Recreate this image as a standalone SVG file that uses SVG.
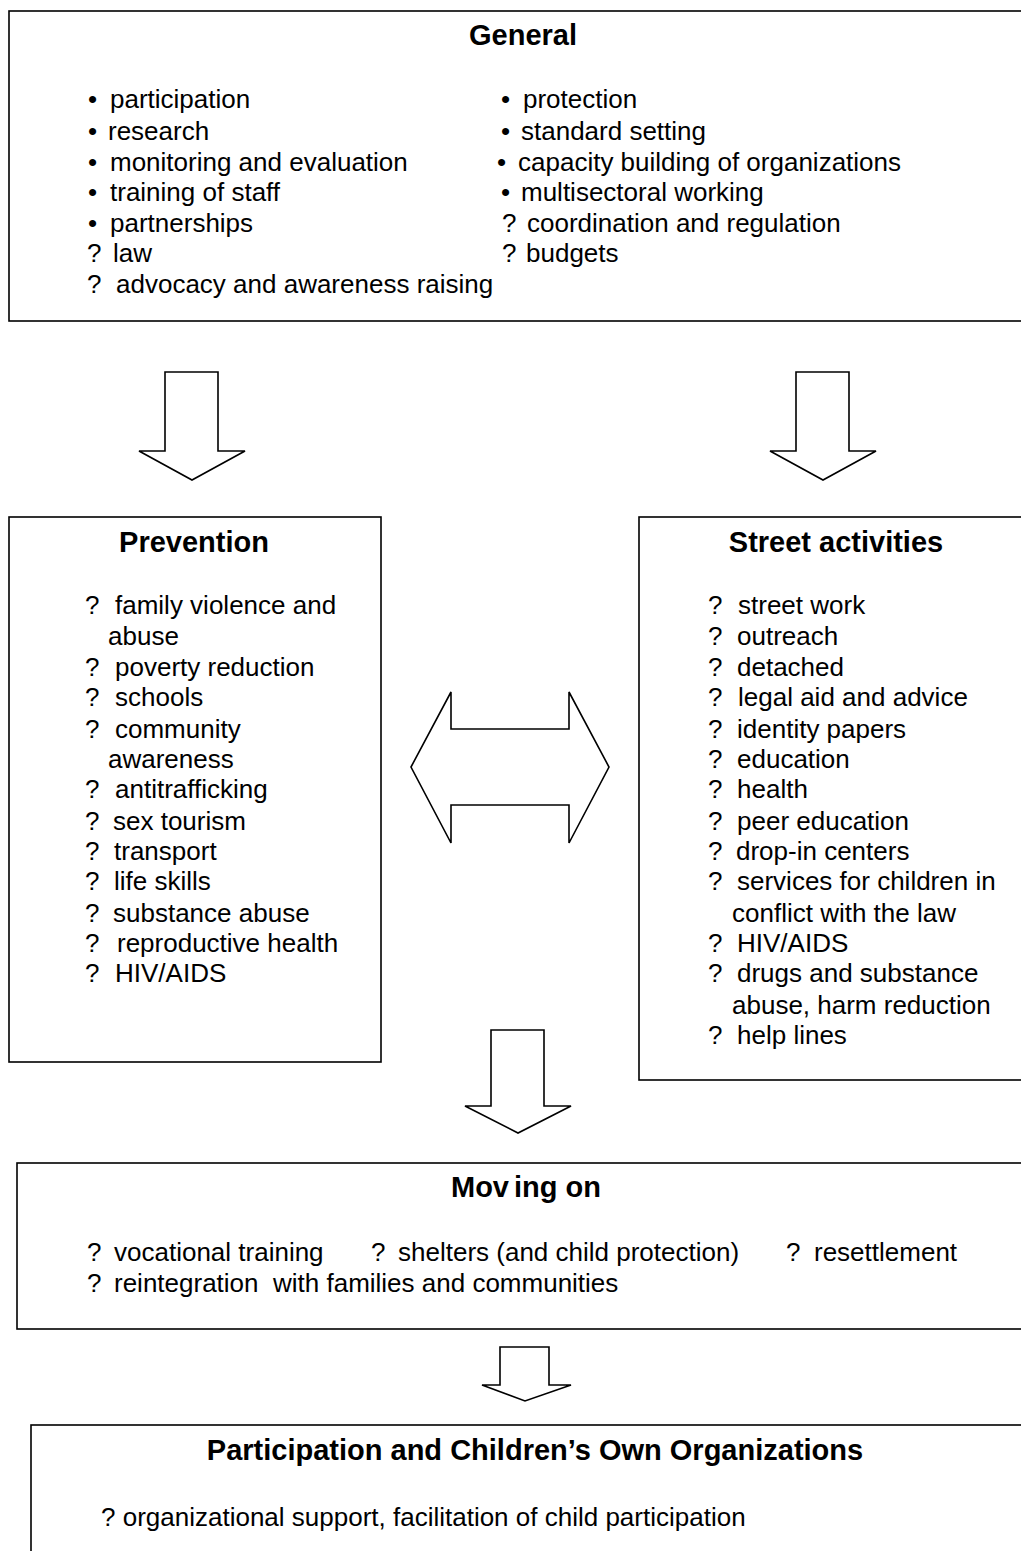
<svg xmlns="http://www.w3.org/2000/svg" width="1021" height="1551" viewBox="0 0 1021 1551">
<style>
.box{fill:#fff;stroke:#000;stroke-width:1.6}
.arr{fill:#fff;stroke:#000;stroke-width:1.6;stroke-linejoin:miter}
.t{font-family:"Liberation Sans",Arial,sans-serif;font-size:26px;fill:#000;white-space:pre}
.h{font-family:"Liberation Sans",Arial,sans-serif;font-size:29px;font-weight:bold;fill:#000;text-anchor:middle}
</style>
<rect width="1021" height="1551" fill="#fff"/>
<g id="connectors">
<polygon class="arr" points="165,372 218,372 218,451 245,451 192,480 139,451 165,451"/>
<polygon class="arr" points="796,372 849,372 849,451 876,451 823,480 770,451 796,451"/>
<polygon class="arr" points="411,767 451,692 451,729 569,729 569,692 609,767 569,843 569,805 451,805 451,843"/>
<polygon class="arr" points="491,1030 544,1030 544,1106 571,1106 518,1133 465,1106 491,1106"/>
<polygon class="arr" points="500,1347 549,1347 549,1385 571,1385 525,1401 482,1385 500,1385"/>
</g>
<g id="general">
<rect class="box" x="9" y="11" width="1030" height="310"/>
<text class="h" x="523" y="45">General</text>
<text class="t" x="88" y="108">•</text><text class="t" x="110" y="108">participation</text>
<text class="t" x="88" y="140">•</text><text class="t" x="108" y="140">research</text>
<text class="t" x="88" y="171">•</text><text class="t" x="110" y="171">monitoring and evaluation</text>
<text class="t" x="88" y="201">•</text><text class="t" x="110" y="201">training of staff</text>
<text class="t" x="88" y="232">•</text><text class="t" x="110" y="232">partnerships</text>
<text class="t" x="87" y="262">?</text><text class="t" x="113" y="262">law</text>
<text class="t" x="87" y="293">?</text><text class="t" x="116" y="293">advocacy and awareness raising</text>
<text class="t" x="501" y="108">•</text><text class="t" x="523" y="108">protection</text>
<text class="t" x="501" y="140">•</text><text class="t" x="521" y="140">standard setting</text>
<text class="t" x="497" y="171">•</text><text class="t" x="518" y="171">capacity building of organizations</text>
<text class="t" x="501" y="201">•</text><text class="t" x="521" y="201">multisectoral working</text>
<text class="t" x="502" y="232">?</text><text class="t" x="527" y="232">coordination and regulation</text>
<text class="t" x="502" y="262">?</text><text class="t" x="526" y="262">budgets</text>
</g>
<g id="prevention">
<rect class="box" x="9" y="517" width="372" height="545"/>
<text class="h" x="194" y="552">Prevention</text>
<text class="t" x="85" y="614">?</text><text class="t" x="115" y="614">family violence and</text>
<text class="t" x="108" y="645">abuse</text>
<text class="t" x="85" y="676">?</text><text class="t" x="115" y="676">poverty reduction</text>
<text class="t" x="85" y="706">?</text><text class="t" x="115" y="706">schools</text>
<text class="t" x="85" y="738">?</text><text class="t" x="115" y="738">community</text>
<text class="t" x="108" y="768">awareness</text>
<text class="t" x="85" y="798">?</text><text class="t" x="115" y="798">antitrafficking</text>
<text class="t" x="85" y="830">?</text><text class="t" x="113" y="830">sex tourism</text>
<text class="t" x="85" y="860">?</text><text class="t" x="114" y="860">transport</text>
<text class="t" x="85" y="890">?</text><text class="t" x="114" y="890">life skills</text>
<text class="t" x="85" y="922">?</text><text class="t" x="113" y="922">substance abuse</text>
<text class="t" x="85" y="952">?</text><text class="t" x="117" y="952">reproductive health</text>
<text class="t" x="85" y="982">?</text><text class="t" x="115" y="982">HIV/AIDS</text>
</g>
<g id="street">
<rect class="box" x="639" y="517" width="400" height="563"/>
<text class="h" x="836" y="552">Street activities</text>
<text class="t" x="708" y="614">?</text><text class="t" x="738" y="614">street work</text>
<text class="t" x="708" y="645">?</text><text class="t" x="737" y="645">outreach</text>
<text class="t" x="708" y="676">?</text><text class="t" x="737" y="676">detached</text>
<text class="t" x="708" y="706">?</text><text class="t" x="738" y="706">legal aid and advice</text>
<text class="t" x="708" y="738">?</text><text class="t" x="737" y="738">identity papers</text>
<text class="t" x="708" y="768">?</text><text class="t" x="737" y="768">education</text>
<text class="t" x="708" y="798">?</text><text class="t" x="737" y="798">health</text>
<text class="t" x="708" y="830">?</text><text class="t" x="737" y="830">peer education</text>
<text class="t" x="708" y="860">?</text><text class="t" x="736" y="860">drop-in centers</text>
<text class="t" x="708" y="890">?</text><text class="t" x="737" y="890">services for children in</text>
<text class="t" x="732" y="922">conflict with the law</text>
<text class="t" x="708" y="952">?</text><text class="t" x="737" y="952">HIV/AIDS</text>
<text class="t" x="708" y="982">?</text><text class="t" x="737" y="982">drugs and substance</text>
<text class="t" x="732" y="1014">abuse, harm reduction</text>
<text class="t" x="708" y="1044">?</text><text class="t" x="737" y="1044">help lines</text>
</g>
<g id="moving-on">
<rect class="box" x="17" y="1163" width="1022" height="166"/>
<text class="h" x="526" y="1197">Mov<tspan dx="5">ing on</tspan></text>
<text class="t" x="87" y="1261">?</text><text class="t" x="114" y="1261">vocational training</text>
<text class="t" x="371" y="1261">?</text><text class="t" x="398" y="1261">shelters (and child protection)</text>
<text class="t" x="786" y="1261">?</text><text class="t" x="814" y="1261">resettlement</text>
<text class="t" x="87" y="1292">?</text><text class="t" x="114" y="1292">reintegration  with families and communities</text>
</g>
<g id="participation">
<rect class="box" x="31" y="1425" width="1010" height="140"/>
<text class="h" x="535" y="1460">Participation and Children’s Own Organizations</text>
<text class="t" x="101" y="1526">? organizational support, facilitation of child participation</text>
</g>
</svg>
